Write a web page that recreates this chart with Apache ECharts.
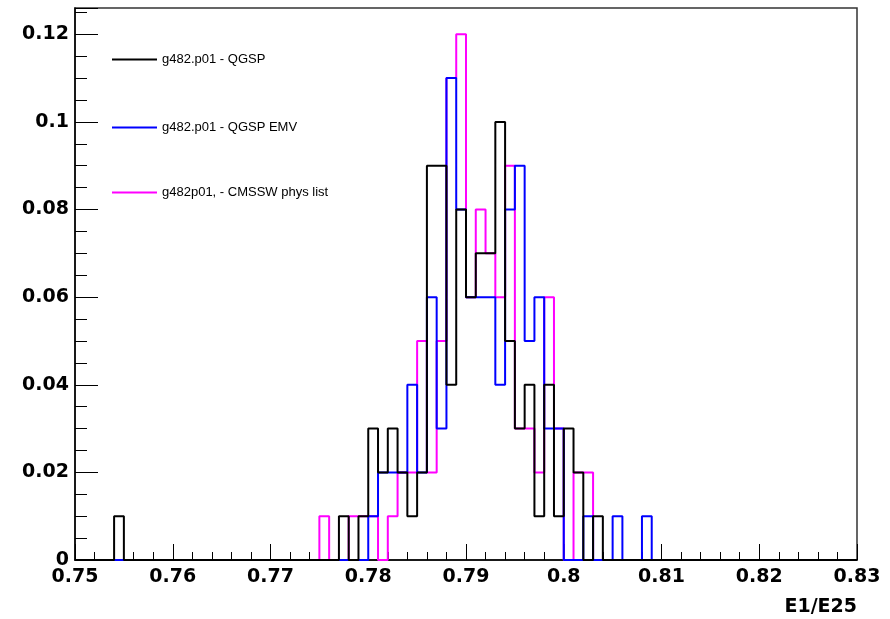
<!DOCTYPE html>
<html>
<head>
<meta charset="utf-8">
<script src="https://cdn.jsdelivr.net/npm/echarts@6/dist/echarts.min.js"></script>
<style>
html,body{margin:0;padding:0;background:#fff;}
#chart{width:890px;height:619px;}
</style>
</head>
<body>
<div id="chart"></div>
<script>
// Histogram binning (E1/E25), 80 bins of width 0.001 from 0.75 to 0.83
const xMin = 0.75;
const xMax = 0.83;
const binWidth = 0.001;
const xTickInterval = 0.01;
const yTickInterval = 0.02;
const yMax = 0.126;

const seriesNames = ['g482.p01 - QGSP', 'g482.p01 - QGSP EMV', 'g482p01, - CMSSW phys list'];

// bin contents, index 0 = [0.750, 0.751)
const qgsp = [
  0,0,0,0,0.01,0,0,0,0,0,
  0,0,0,0,0,0,0,0,0,0,
  0,0,0,0,0,0,0,0.01,0,0.01,
  0.03,0.02,0.03,0.02,0.01,0.02,0.09,0.09,0.04,0.08,
  0.06,0.07,0.07,0.10,0.05,0.03,0.04,0.01,0.04,0.01,
  0.03,0.02,0,0.01,0,0,0,0,0,0,
  0,0,0,0,0,0,0,0,0,0,
  0,0,0,0,0,0,0,0,0,0
];
const qgspEmv = [
  0,0,0,0,0,0,0,0,0,0,
  0,0,0,0,0,0,0,0,0,0,
  0,0,0,0,0,0,0,0,0,0,
  0.01,0.02,0.02,0.02,0.04,0.02,0.06,0.03,0.11,0.08,
  0.06,0.06,0.06,0.04,0.08,0.09,0.05,0.06,0.03,0.03,
  0,0,0.01,0,0,0.01,0,0,0.01,0,
  0,0,0,0,0,0,0,0,0,0,
  0,0,0,0,0,0,0,0,0,0
];
const cmssw = [
  0,0,0,0,0,0,0,0,0,0,
  0,0,0,0,0,0,0,0,0,0,
  0,0,0,0,0,0.01,0,0,0.01,0.01,
  0.01,0,0.01,0.02,0.02,0.05,0.02,0.05,0.11,0.12,
  0.06,0.08,0.07,0.06,0.09,0.03,0.03,0.02,0.06,0.03,
  0,0.02,0.02,0,0,0,0,0,0,0,
  0,0,0,0,0,0,0,0,0,0,
  0,0,0,0,0,0,0,0,0,0
];

const colors = ['#000000', '#0000ff', '#ff00ff'];

function toSteps(vals) {
  const pts = [];
  for (let i = 0; i < vals.length; i++) {
    pts.push([Number((xMin + i * binWidth).toFixed(4)), vals[i]]);
  }
  pts.push([xMax, vals[vals.length - 1]]);
  return pts;
}

const FONT = 'DejaVu Sans';
const chart = echarts.init(document.getElementById('chart'), null, {renderer: 'canvas'});

function mkSeries(name, vals, color, z) {
  return {
    name: name,
    type: 'line',
    step: 'end',
    data: toSteps(vals),
    showSymbol: false,
    symbol: 'none',
    animation: false,
    z: z,
    lineStyle: {color: color, width: 2},
    itemStyle: {color: color}
  };
}

function mkLegend(name, top) {
  return {
    data: [name],
    left: 112,
    top: top,
    padding: 0,
    icon: 'rect',
    itemWidth: 45,
    itemHeight: 2,
    selectedMode: false,
    textStyle: {fontFamily: 'Liberation Sans', fontSize: 13, color: '#000'}
  };
}

chart.setOption({
  backgroundColor: '#ffffff',
  animation: false,
  grid: {
    left: 75, right: 33, top: 8, bottom: 59,
    show: true, borderColor: '#333', borderWidth: 1.5, backgroundColor: 'transparent'
  },
  legend: [
    mkLegend(seriesNames[0], 53),
    mkLegend(seriesNames[1], 121),
    mkLegend(seriesNames[2], 186)
  ],
  xAxis: {
    type: 'value',
    min: xMin, max: xMax, interval: xTickInterval,
    name: 'E1/E25',
    nameLocation: 'end',
    nameGap: 0,
    nameTextStyle: {
      fontFamily: FONT, fontWeight: 'bold', fontSize: 19, color: '#000',
      align: 'right', verticalAlign: 'top', padding: [38, 0, 0, 0]
    },
    axisLine: {show: true, onZero: false, lineStyle: {color: '#000', width: 1.5}},
    axisTick: {show: true, inside: true, length: 16, lineStyle: {color: '#000', width: 1}},
    minorTick: {show: true, splitNumber: 5, length: 8, lineStyle: {color: '#000', width: 1}},
    splitLine: {show: false},
    minorSplitLine: {show: false},
    axisLabel: {
      fontFamily: FONT, fontWeight: 'bold', fontSize: 19, color: '#000', margin: 8,
      formatter: function (v) { return String(Number(v.toFixed(3))); }
    }
  },
  yAxis: {
    type: 'value',
    min: 0, max: yMax, interval: yTickInterval,
    axisLine: {show: true, lineStyle: {color: '#000', width: 1.5}},
    axisTick: {show: true, inside: true, length: 23, lineStyle: {color: '#000', width: 1}},
    minorTick: {show: true, splitNumber: 4, length: 12, lineStyle: {color: '#000', width: 1}},
    splitLine: {show: false},
    minorSplitLine: {show: false},
    axisLabel: {
      fontFamily: FONT, fontWeight: 'bold', fontSize: 19, color: '#000', margin: 6,
      showMaxLabel: false,
      formatter: function (v) { return String(Number(v.toFixed(3))); }
    }
  },
  series: [
    mkSeries(seriesNames[2], cmssw, colors[2], 2),
    mkSeries(seriesNames[1], qgspEmv, colors[1], 3),
    mkSeries(seriesNames[0], qgsp, colors[0], 4)
  ]
});
</script>
</body>
</html>
